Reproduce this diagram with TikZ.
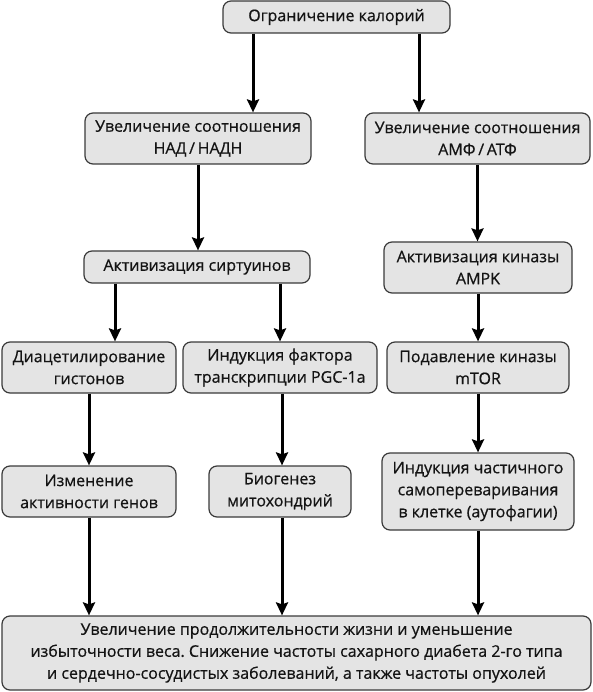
\documentclass[tikz,border=0pt]{standalone}
\usepackage{fontspec}
\setmainfont{Open Sans}
\newfontfamily\boxfont{Open Sans}[FakeBold=0.6]
\usetikzlibrary{arrows.meta}
\frenchspacing
\definecolor{boxfill}{HTML}{E4E4E4}
\definecolor{boxline}{HTML}{3A3A3A}
\definecolor{txt}{HTML}{141414}
\tikzset{
  box/.style={draw=boxline, line width=1.2pt, fill=boxfill, rounded corners=8pt,
    align=center, inner sep=0pt, text=txt, font=\boxfont\fontsize{16}{22}\selectfont},
  arr/.style={line width=3pt, black, -{Stealth[length=13pt,width=12pt,inset=2pt]}}
}
\begin{document}
\begin{tikzpicture}[x=1pt,y=1pt]
\useasboundingbox (0,0) rectangle (593,-692);
\node[box, minimum width=227pt, minimum height=32pt] (b1) at (336.5,-17) {Ограничение калорий};
\node[box, minimum width=226pt, minimum height=51pt] (nad) at (198,-138.5) {Увеличение соотношения\\НАД\,/\,НАДН};
\node[box, minimum width=225pt, minimum height=51pt] (amf) at (477.5,-138.5) {Увеличение соотношения\\АМФ\,/\,АТФ};
\node[box, minimum width=226pt, minimum height=32pt] (sirt) at (197,-267) {Активизация сиртуинов};
\node[box, minimum width=188pt, minimum height=51pt] (ampk) at (478,-267.5) {Активизация киназы\\AMPK};
\node[box, minimum width=174pt, minimum height=51pt] (diac) at (89,-367.5) {Диацетилирование\\гистонов};
\node[box, minimum width=194pt, minimum height=51pt] (pgc) at (280,-367.5) {Индукция фактора\\транскрипции PGC-1a};
\node[box, minimum width=182pt, minimum height=51pt] (mtor) at (478,-367.5) {Подавление киназы\\mTOR};
\node[box, minimum width=174pt, minimum height=51pt] (izm) at (89,-491.5) {Изменение\\активности генов};
\node[box, minimum width=142pt, minimum height=51pt] (bio) at (280,-491.5) {Биогенез\\митохондрий};
\node[box, minimum width=192pt, minimum height=77pt] (auto) at (478,-491.5) {Индукция частичного\\самопереваривания\\в клетке (аутофагии)};
\node[box, minimum width=589pt, minimum height=74pt] (fin) at (296.5,-653) {Увеличение продолжительности жизни и уменьшение\\избыточности веса. Снижение частоты сахарного диабета 2-го типа\\и сердечно-сосудистых заболеваний, а также частоты опухолей};
% connectors
\draw[arr] ([xshift=-83.5pt]b1.south) -- ([xshift=-83.5pt]b1.south |- nad.north);
\draw[arr] ([xshift=82.5pt]b1.south) -- ([xshift=82.5pt]b1.south |- amf.north);
\draw[arr] (nad.south) -- (nad.south |- sirt.north);
\draw[arr] (amf.south) -- (amf.south |- ampk.north);
\draw[arr] ([xshift=-82pt]sirt.south) -- ([xshift=-82pt]sirt.south |- diac.north);
\draw[arr] ([xshift=83pt]sirt.south) -- ([xshift=83pt]sirt.south |- pgc.north);
\draw[arr] (ampk.south) -- (ampk.south |- mtor.north);
\draw[arr] (diac.south) -- (diac.south |- izm.north);
\draw[arr] ([xshift=2pt]pgc.south) -- ([xshift=2pt]pgc.south |- bio.north);
\draw[arr] (mtor.south) -- (mtor.south |- auto.north);
\draw[arr] (izm.south) -- (izm.south |- fin.north);
\draw[arr] ([xshift=2pt]bio.south) -- ([xshift=2pt]bio.south |- fin.north);
\draw[arr] (auto.south) -- (auto.south |- fin.north);
\end{tikzpicture}
\end{document}
